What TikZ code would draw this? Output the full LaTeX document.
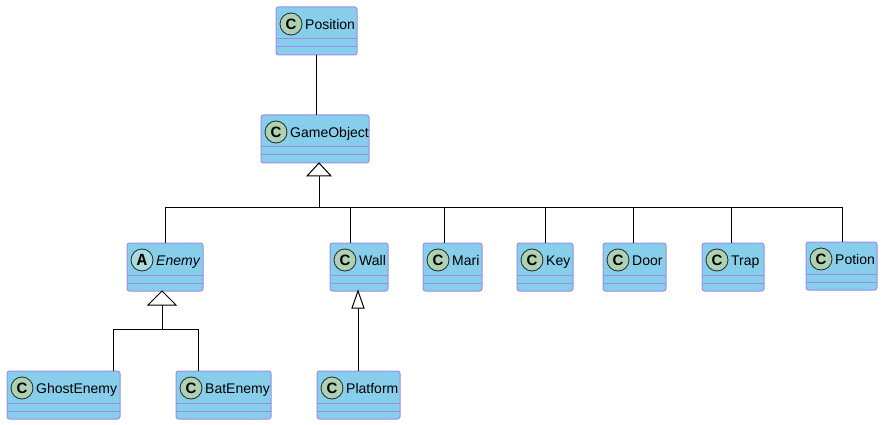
\documentclass[tikz,border=0pt]{standalone}
\usepackage{fontspec}
\setmainfont{Liberation Sans}
\newfontfamily\iconfont{Liberation Mono}
\definecolor{clsfill}{RGB}{135,206,235}
\definecolor{clsborder}{RGB}{155,140,235}
\definecolor{iconC}{RGB}{173,209,178}
\definecolor{iconA}{RGB}{169,220,223}
\definecolor{icondraw}{RGB}{40,40,40}
\tikzset{
  clsbox/.style={draw=clsborder, fill=clsfill, rounded corners=2.5pt, line width=1pt, inner sep=0pt, outer sep=0pt},
  cline/.style={draw=clsborder, line width=1pt},
  cicon/.style={circle, draw=icondraw, fill=iconC, line width=0.8pt, minimum size=22pt, inner sep=0pt, font=\bfseries\fontsize{15}{15}\selectfont},
  aicon/.style={cicon, fill=iconA, font=\iconfont\bfseries\fontsize{17}{17}\selectfont},
  lbl/.style={anchor=base west, inner sep=0pt, font=\fontsize{14}{16}\selectfont},
  conn/.style={draw=black, line width=1pt},
  inh/.style={draw=black, fill=white, line width=1pt, line join=miter},
}
% name, x1, y1, x2, y2, label, letter, icon style
\newcommand{\umlclass}[8]{%
  \node[clsbox, minimum width={(#4-#2)*1pt}, minimum height={(#5-#3)*1pt}] (#1) at ({(#2+#4)/2},{(#3+#5)/2}) {};
  \draw[cline] ([yshift=-32pt]#1.north west) -- ([yshift=-32pt]#1.north east);
  \draw[cline] ([yshift=-40pt]#1.north west) -- ([yshift=-40pt]#1.north east);
  \node[#8] (#1-icon) at ([xshift=15pt,yshift=-17pt]#1.north west) {#7};
  \node[lbl] (#1-name) at ([xshift=29pt,yshift=-22.5pt]#1.north west) {#6};
}
\begin{document}
\begin{tikzpicture}[x=1pt,y=-1pt]
\useasboundingbox (0,0) rectangle (892,425);
\umlclass{Position}{276}{7}{357}{55}{Position}{C}{cicon}
\umlclass{GameObject}{261}{115}{369}{163}{GameObject}{C}{cicon}
\umlclass{Enemy}{127}{243}{203}{291}{\itshape Enemy}{A}{aicon}
\umlclass{Wall}{330}{243}{388}{291}{Wall}{C}{cicon}
\umlclass{Mari}{423}{243}{482}{291}{Mari}{C}{cicon}
\umlclass{Key}{517}{243}{573}{291}{Key}{C}{cicon}
\umlclass{Door}{603}{243}{666}{291}{Door}{C}{cicon}
\umlclass{Trap}{702}{243}{764}{291}{Trap}{C}{cicon}
\umlclass{Potion}{806}{242}{877}{290}{Potion}{C}{cicon}
\umlclass{GhostEnemy}{7}{371}{120}{419}{GhostEnemy}{C}{cicon}
\umlclass{BatEnemy}{176}{371}{271}{419}{BatEnemy}{C}{cicon}
\umlclass{Platform}{317}{371}{400}{419}{Platform}{C}{cicon}

% Position -- GameObject
\draw[conn] (Position.south) -- (Position.south |- GameObject.north);

% GameObject generalization
\coordinate (gT) at ([xshift=4pt]GameObject.south);
\coordinate (gB) at (319,176);
\coordinate (gJ) at (319,207);
\draw[conn] (gB) -- (gJ);
\foreach \n/\x in {Enemy/165, Wall/350, Mari/444, Key/545, Door/633, Trap/731, Potion/842}
  \coordinate (j\n) at (\x,207);
\draw[conn] (jEnemy |- Enemy.north) -- (jEnemy) -- (jPotion) -- (jPotion |- Potion.north);
\foreach \n in {Wall, Mari, Key, Door, Trap}
  \draw[conn] (j\n) -- (j\n |- \n.north);
\draw[inh] (gT) -- ++(-12,13) -- ++(24,0) -- cycle;

% Enemy generalization
\coordinate (eT) at ([xshift=-3pt]Enemy.south);
\coordinate (eB) at (162,305);
\coordinate (eJ) at (162,329);
\coordinate (jGhost) at (113,329);
\coordinate (jBat) at (198,329);
\draw[conn] (eB) -- (eJ);
\draw[conn] (jGhost |- GhostEnemy.north) -- (jGhost) -- (jBat) -- (jBat |- BatEnemy.north);
\draw[inh] (eT) -- ++(-14,14) -- ++(28,0) -- cycle;

% Wall generalization
\coordinate (wT) at ([xshift=-1pt]Wall.south);
\coordinate (wB) at (358,308);
\draw[conn] (wB) -- (wB |- Platform.north);
\draw[inh] (wT) -- ++(-6,17) -- ++(12,0) -- cycle;
\end{tikzpicture}
\end{document}
